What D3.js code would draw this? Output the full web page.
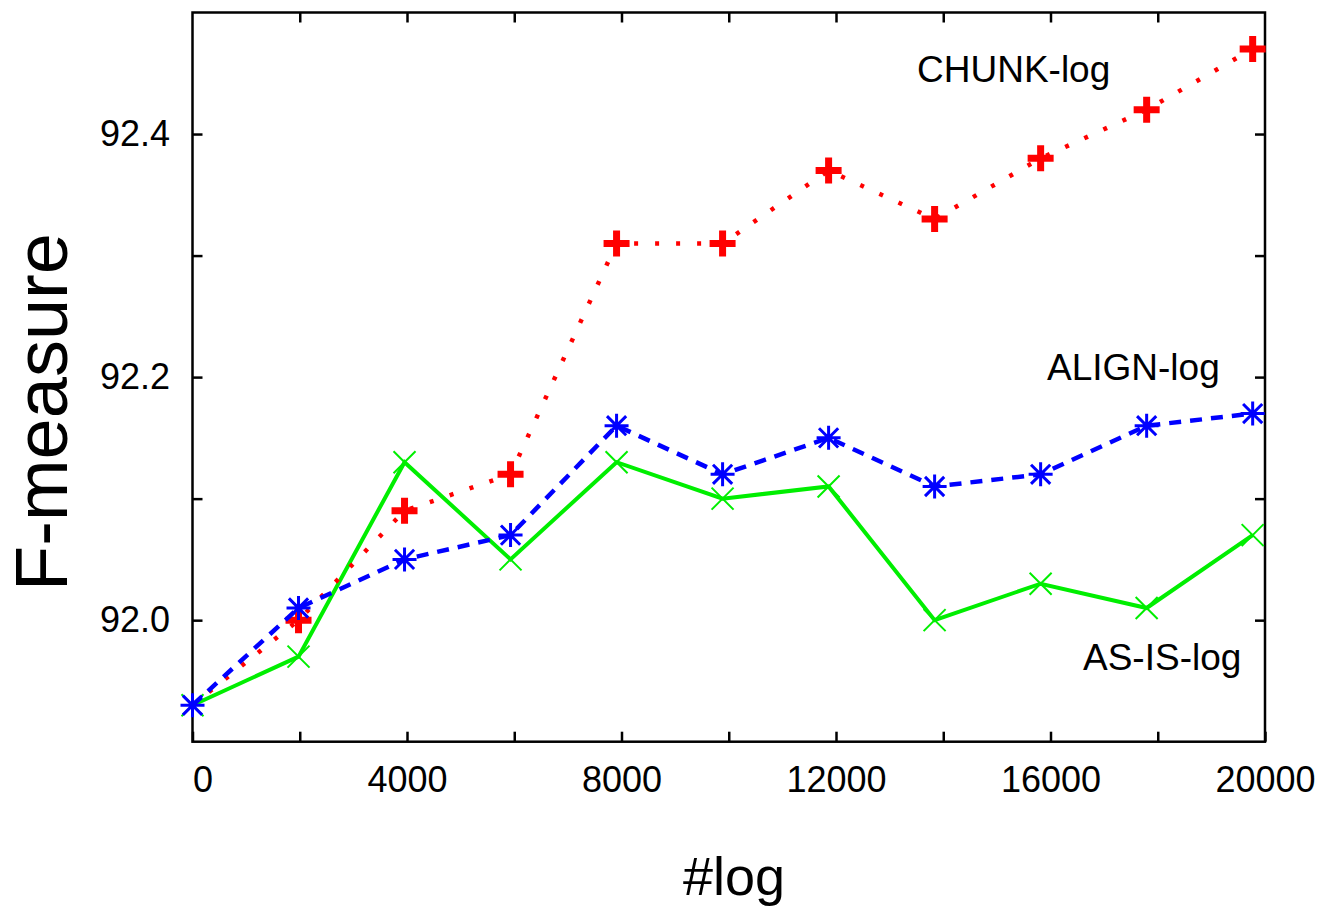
<!DOCTYPE html>
<html>
<head>
<meta charset="utf-8">
<script src="https://cdn.jsdelivr.net/npm/d3@7"></script>
<style>
  body { margin: 0; background: #fff; }
  text { font-family: "Liberation Sans", Arial, sans-serif; fill: #000; }
</style>
</head>
<body>
<div class="container"></div>
<script>
const w = 1319;
const h = 906;
const plotLeft = 192.5, plotRight = 1265, plotTop = 12.5, plotBottom = 741.7;

// data
const logCounts = [0, 1977, 3954, 5931, 7908, 9885, 11862, 13839, 15816, 17793, 19770];
const chunkLog = [91.93, 92.00, 92.09, 92.12, 92.31, 92.31, 92.37, 92.33, 92.38, 92.42, 92.47];
const alignLog = [91.93, 92.01, 92.05, 92.07, 92.16, 92.12, 92.15, 92.11, 92.12, 92.16, 92.17];
const asisLog  = [91.93, 91.97, 92.13, 92.05, 92.13, 92.10, 92.11, 92.00, 92.03, 92.01, 92.07];
const xTicks = d3.range(0, 20001, 2000);
const yTicks = [91.9, 92.0, 92.1, 92.2, 92.3, 92.4, 92.5];

const svg = d3.select(".container")
          .append("svg")
          .attr("width", w)
          .attr("height", h);

const xScale = d3.scaleLinear().domain([0, 20000]).range([plotLeft, plotRight]);
const yScale = d3.scaleLinear().domain([91.9, 92.5]).range([plotBottom, plotTop]);

// tick marks on all four sides, pointing inward
function styleAxis(g){
    g.select(".domain").remove();
    g.selectAll(".tick line").attr("stroke", "#000").attr("stroke-width", 2.5);
    g.selectAll(".tick text").style("font-size", "36px").attr("fill", "#000");
}

const xInner = xTicks.filter(d => d > 0 && d < 20000);
const yInner = yTicks.filter(d => d > 91.9 && d < 92.5);

svg.append("g")
   .attr("id", "x-axis")
   .attr("transform", "translate(0," + plotBottom + ")")
   .call(d3.axisBottom(xScale).tickValues(xTicks).tickSizeInner(-10).tickSizeOuter(0)
        .tickFormat(d => d % 4000 === 0 ? d : ""))
   .call(styleAxis)
   .call(g => g.selectAll(".tick text").attr("y", 50).attr("dy", 0)
        .attr("dx", d => d === 0 ? 10 : 0));

svg.append("g")
   .attr("transform", "translate(0," + plotTop + ")")
   .call(d3.axisTop(xScale).tickValues(xInner).tickSizeInner(-10).tickSizeOuter(0).tickFormat(""))
   .call(styleAxis);

svg.append("g")
   .attr("id", "y-axis")
   .attr("transform", "translate(" + plotLeft + ",0)")
   .call(d3.axisLeft(yScale).tickValues(yInner).tickSizeInner(-10).tickSizeOuter(0)
        .tickFormat(d => (Math.round(d * 10) % 2 === 0) ? d3.format(".1f")(d) : ""))
   .call(styleAxis)
   .call(g => g.selectAll(".tick text").attr("x", -22.5));

svg.append("g")
   .attr("transform", "translate(" + plotRight + ",0)")
   .call(d3.axisRight(yScale).tickValues(yInner).tickSizeInner(-10).tickSizeOuter(0).tickFormat(""))
   .call(styleAxis);

svg.append("rect")
   .attr("x", plotLeft).attr("y", plotTop)
   .attr("width", plotRight - plotLeft).attr("height", plotBottom - plotTop)
   .attr("fill", "none").attr("stroke", "#000").attr("stroke-width", 2.5);

// markers
function plusPath(s){ return `M${-s},0H${s}M0,${-s}V${s}`; }
function crossPath(s){ return `M${-s},${-s}L${s},${s}M${-s},${s}L${s},${-s}`; }
function starPath(s){ const d = s * 0.8; return plusPath(s) + crossPath(d); }

// the red plus at x=0 is not visible in the original (clipped at the border)
const series = [
    { name: "AS-IS-log", values: asisLog, color: "#00ee00", dash: null, width: 4, marker: crossPath, size: 11, mw: 2, skipFirst: false },
    { name: "CHUNK-log", values: chunkLog, color: "#ff0000", dash: "4 17", width: 4.5, marker: plusPath, size: 13, mw: 7, skipFirst: true },
    { name: "ALIGN-log", values: alignLog, color: "#0000ff", dash: "12 9", width: 4.5, marker: starPath, size: 12, mw: 3, skipFirst: false }
];

const line = d3.line()
    .x((d, i) => xScale(logCounts[i]))
    .y(d => yScale(d));

series.forEach(s => {
    svg.append("path")
       .datum(s.values)
       .attr("d", line)
       .attr("fill", "none")
       .attr("stroke", s.color)
       .attr("stroke-width", s.width)
       .attr("stroke-dasharray", s.dash);

    svg.selectAll(null)
       .data(s.values.map((v, i) => ({ x: logCounts[i], y: v, i: i }))
                     .filter(d => !(s.skipFirst && d.i === 0)))
       .enter()
       .append("path")
       .attr("transform", d => "translate(" + xScale(d.x) + "," + yScale(d.y) + ")")
       .attr("d", s.marker(s.size))
       .attr("fill", "none")
       .attr("stroke", s.color)
       .attr("stroke-width", s.mw);
});

// series labels
const labels = [
    { text: "CHUNK-log", x: 917, y: 82 },
    { text: "ALIGN-log", x: 1047, y: 380 },
    { text: "AS-IS-log", x: 1083, y: 670 }
];
svg.selectAll(".series-label")
   .data(labels)
   .enter()
   .append("text")
   .attr("class", "series-label")
   .attr("x", d => d.x)
   .attr("y", d => d.y)
   .style("font-size", "37px")
   .text(d => d.text);

// axis titles
svg.append("text")
   .attr("x", 734)
   .attr("y", 895)
   .attr("text-anchor", "middle")
   .style("font-size", "54px")
   .text("#log");

svg.append("text")
   .attr("transform", "translate(67,412) rotate(-90)")
   .attr("text-anchor", "middle")
   .style("font-size", "74px")
   .text("F-measure");
</script>
</body>
</html>
